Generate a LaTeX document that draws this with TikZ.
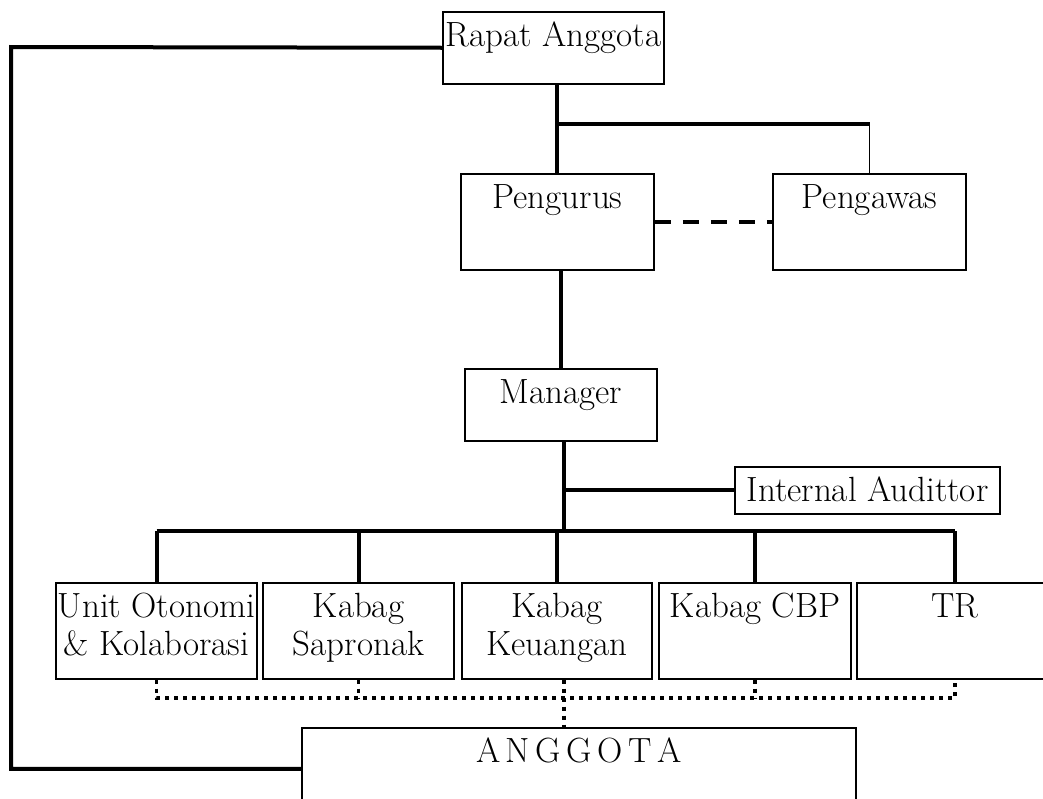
\documentclass[tikz,border=0pt]{standalone}
\usepackage{tikz}

\begin{document}
\begin{tikzpicture}[x=0.5pt,y=-0.5pt,
  unit/.style={draw,line width=.75pt,anchor=north,inner sep=0pt,align=center,text height=17.5pt,font=\fontsize{17.5}{19}\selectfont},
  two/.style={text height=36.5pt,text depth=11.5pt},
  link/.style={line width=2pt},
  thin link/.style={line width=.9pt},
  dash link/.style={line width=2pt,dash pattern=on 8pt off 6pt},
  dot link/.style={line width=1.6pt,dash pattern=on 2pt off 2.5pt}]

\clip (0,0) rectangle (1043,798);

\node(rapat) at (553.5,11)[unit,minimum width=110.5pt,text depth=18.5pt] {Rapat Anggota};
\node(pengurus) at (557.5,173)[unit,minimum width=96.5pt,text depth=30.5pt] {Pengurus};
\node(pengawas) at (869.5,173)[unit,minimum width=96.5pt,text depth=30.5pt] {Pengawas};
\node(manager) at (561,368)[unit,minimum width=96pt,text depth=18.5pt] {Manager};
\node(auditor) at (867.5,466)[unit,minimum width=132.5pt,text depth=6pt] {Internal Audittor};

\node(unit) at (156.5,582)[unit,two,minimum width=100.5pt] {Unit Otonomi\\\& Kolaborasi};
\node(sapronak) at (358.5,582)[unit,two,minimum width=95.5pt] {Kabag\\Sapronak};
\node(keuangan) at (557,582)[unit,two,minimum width=95pt] {Kabag\\Keuangan};
\node(cbp) at (755,582)[unit,minimum width=96pt,text depth=30.5pt] {Kabag CBP};
\node(tr) at (955,582)[unit,minimum width=98pt,text depth=30.5pt] {TR};

\node(anggota) at (579,727)[unit,minimum width=277pt,text depth=23.5pt] {\spaceskip=2.8pt A N G G O T A};

\coordinate(fork) at (557,124);
\coordinate(bus) at (564,531);
\coordinate(dots) at (564,698);
\coordinate(lt) at (11,47);

% rapat anggota ke pengurus dan pengawas
\draw[link] (fork |- rapat.south) -- (fork |- pengurus.north);
\draw[link] (fork) -- (pengawas.north |- fork);
\draw[thin link] (pengawas.north |- fork) -- (pengawas.north);
\draw[dash link] (pengurus.east) -- (pengawas.west);

\draw[link] (manager.north |- pengurus.south) -- (manager.north);
\draw[link] (bus |- manager.south) -- (bus);
\draw[link] (bus |- auditor.west) -- (auditor.west);

% garis bagian
\draw[link] (unit.north |- bus) -- (tr.north |- bus);
\draw[link] (unit.north |- bus) -- (unit.north);
\draw[link] (sapronak.north |- bus) -- (sapronak.north);
\draw[link] (keuangan.north |- bus) -- (keuangan.north);
\draw[link] (cbp.north |- bus) -- (cbp.north);
\draw[link] (tr.north |- bus) -- (tr.north);

% garis titik ke anggota
\draw[dot link] (unit.south) -- (unit.south |- dots) -- (tr.south |- dots) -- (tr.south);
\draw[dot link] (sapronak.south) -- (sapronak.south |- dots);
\draw[dot link] (cbp.south) -- (cbp.south |- dots);
\draw[dot link] (dots |- keuangan.south) -- (dots |- anggota.north);

\draw[link] (rapat.west) -- (lt) |- (anggota.west);

\end{tikzpicture}
\end{document}
